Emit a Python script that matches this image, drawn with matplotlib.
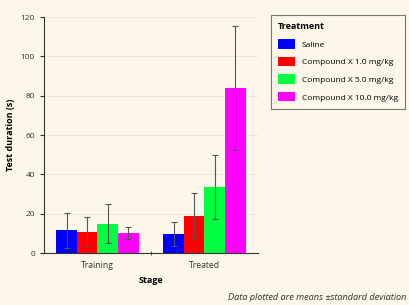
import matplotlib
matplotlib.use("Agg")
import matplotlib.pyplot as plt
import numpy as np

stages = ["Training", "Treated"]
treatments = ["Saline", "Compound X 1.0 mg/kg", "Compound X 5.0 mg/kg", "Compound X 10.0 mg/kg"]
colors = ["#0000FF", "#FF0000", "#00FF40", "#FF00FF"]
means = {
    "Saline": [11.5, 9.6],
    "Compound X 1.0 mg/kg": [10.6, 19.0],
    "Compound X 5.0 mg/kg": [15.0, 33.5],
    "Compound X 10.0 mg/kg": [10.3, 83.8],
}
sds = {
    "Saline": [9.0, 6.0],
    "Compound X 1.0 mg/kg": [7.8, 11.3],
    "Compound X 5.0 mg/kg": [9.8, 16.2],
    "Compound X 10.0 mg/kg": [3.0, 31.5],
}
yticks = [0, 20, 40, 60, 80, 100, 120]

bg = "#FCF7E9"
plt.rcParams['font.family'] = ['Open Sans', 'DejaVu Sans']
fig = plt.figure(figsize=(4.09, 3.05), dpi=100, facecolor=bg)
ax = fig.add_axes([44/409, 1 - 253/305, (258-44)/409, (253-17)/305])
ax.set_facecolor(bg)

x = np.arange(len(stages))
w = 0.192
for i, t in enumerate(treatments):
    pos = x + (i - 1.5) * w
    ax.bar(pos, means[t], w, color=colors[i], edgecolor='none', zorder=2, label=t)
    ax.errorbar(pos, means[t], yerr=sds[t], fmt='none', ecolor='#555555',
                elinewidth=0.8, capsize=2.5, capthick=0.8, zorder=3)

ax.set_xlim(-0.5, 1.5)
ax.set_ylim(0, 120)
ax.set_yticks(yticks)
ax.set_xticks(x)
ax.set_xticklabels(stages)
ax.set_xticks([0.5], minor=True)
ax.tick_params(axis='x', which='major', length=0, labelsize=6.2, pad=6, colors='#333333')
ax.tick_params(axis='x', which='minor', length=3, direction='inout', color='#333333')
ax.tick_params(axis='y', labelsize=6, length=3, colors='#333333')
ax.grid(axis='y', color='#ECE8DA', linewidth=0.8, zorder=0)
ax.set_axisbelow(True)
for s in ['top', 'right']:
    ax.spines[s].set_visible(False)
for s in ['left', 'bottom']:
    ax.spines[s].set_color('#333333')
    ax.spines[s].set_linewidth(0.8)
ax.set_xlabel("Stage", fontsize=6.5, fontweight='bold', labelpad=4)
ax.set_ylabel("Test duration (s)", fontsize=6.5, fontweight='bold', labelpad=4)

leg = fig.legend(loc='upper left', bbox_to_anchor=(271/409, 1 - 15/305), title="Treatment",
                 fontsize=6, title_fontsize=6.5, frameon=True, fancybox=False,
                 edgecolor='#555555', facecolor=bg, handlelength=2.05, handleheight=1.35,
                 borderpad=0.85, labelspacing=0.98, handletextpad=0.8, alignment='left',
                 borderaxespad=0)
leg.get_title().set_fontweight('bold')
leg.get_frame().set_linewidth(0.8)

fig.text(228/409, 1 - 297/305, "Data plotted are means \u00b1standard deviation", fontsize=6.6,
         style='italic', ha='left', va='center', color='#333333')

fig.savefig("out.png", dpi=100, facecolor=bg)
